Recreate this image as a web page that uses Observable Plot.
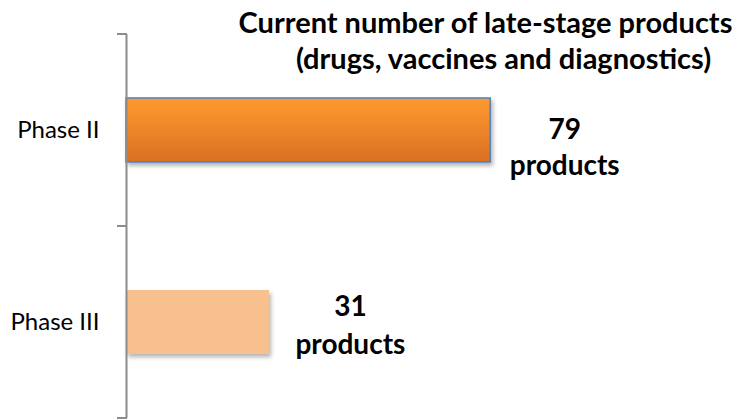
<!DOCTYPE html>
<html>
<head>
<meta charset="utf-8">
<script src="https://cdn.jsdelivr.net/npm/d3@7"></script>
<script src="https://cdn.jsdelivr.net/npm/@observablehq/plot@0.6"></script>
<style>
  html, body { margin: 0; padding: 0; background: #fff; }
  #wrap { position: relative; width: 742px; height: 420px; font-family: Lato, "Open Sans", sans-serif; }
  .title { position: absolute; font-weight: bold; font-size: 29px; color: #000; text-align: center; white-space: nowrap; line-height: 1; }
  svg g[aria-label="bar"] rect { filter: url(#barShadow); }
</style>
</head>
<body>
<div id="wrap">
  <div class="title" id="t1" style="left:233px; width:505px; top:7px;"></div>
  <div class="title" id="t2" style="left:280px; width:447px; top:43px;"></div>
</div>
<script>
const titleLines = ["Current number of late-stage products", "(drugs, vaccines and diagnostics)"];
const categories = ["Phase II", "Phase III"];
const values = [79, 31];
const unitLabel = "products";

document.getElementById("t1").textContent = titleLines[0];
document.getElementById("t2").textContent = titleLines[1];

const data = categories.map((c, i) => ({cat: c, value: values[i]}));
const fills = {"Phase II": "url(#gradPhase2)", "Phase III": "#F9C08F"};
const strokes = {"Phase II": "#4F81BD", "Phase III": "none"};

function axisTicks(index, scales) {
  const y = scales.y, bw = y.bandwidth();
  const edges = [];
  categories.forEach((c, i) => { if (i === 0) edges.push(y(c)); edges.push(y(c) + bw); });
  const g = d3.create("svg:g");
  g.selectAll("line").data(edges).join("line")
    .attr("x1", 117).attr("x2", 127)
    .attr("y1", d => d).attr("y2", d => d)
    .attr("stroke", "#8c8c8c").attr("stroke-width", 2);
  return g.node();
}

const labelText = d => `${d.value}\n${unitLabel}`;

const chart = Plot.plot({
  width: 742,
  height: 420,
  marginTop: 34,
  marginBottom: 2,
  marginLeft: 126,
  marginRight: 155,
  style: {fontFamily: "Lato, 'Open Sans', sans-serif", fontSize: "24px", color: "#000", overflow: "visible"},
  x: {domain: [0, 100], axis: null},
  y: {domain: categories, padding: 0, label: null, tickSize: 0, tickPadding: 27},
  color: {type: "identity"},
  marks: [
    Plot.barX(data, {y: "cat", x: "value", fill: d => fills[d.cat], stroke: d => strokes[d.cat], strokeWidth: 1.5, insetTop: 64, insetBottom: 64}),
    Plot.ruleX([0], {stroke: "#8c8c8c", strokeWidth: 2}),
    axisTicks,
    Plot.text(data.filter(d => d.cat === "Phase II"), {x: "value", y: "cat", text: labelText, dx: 74, dy: 15, fontSize: 28, fontWeight: "bold", lineHeight: 1.28, fill: "#000"}),
    Plot.text(data.filter(d => d.cat === "Phase III"), {x: "value", y: "cat", text: labelText, dx: 81, dy: 0, fontSize: 28, fontWeight: "bold", lineHeight: 1.38, fill: "#000"})
  ]
});

const defs = d3.select(chart).insert("defs", ":first-child");
const grad = defs.append("linearGradient").attr("id", "gradPhase2").attr("x1", 0).attr("y1", 0).attr("x2", 0).attr("y2", 1);
grad.append("stop").attr("offset", "0%").attr("stop-color", "#FF9A30");
grad.append("stop").attr("offset", "100%").attr("stop-color", "#DA7024");
const f = defs.append("filter").attr("id", "barShadow").attr("x", "-10%").attr("y", "-20%").attr("width", "130%").attr("height", "160%");
f.append("feDropShadow").attr("dx", 2).attr("dy", 3).attr("stdDeviation", 2).attr("flood-color", "#000").attr("flood-opacity", 0.3);

chart.style.position = "absolute";
chart.style.left = "0px";
chart.style.top = "0px";
document.getElementById("wrap").appendChild(chart);
</script>
</body>
</html>
